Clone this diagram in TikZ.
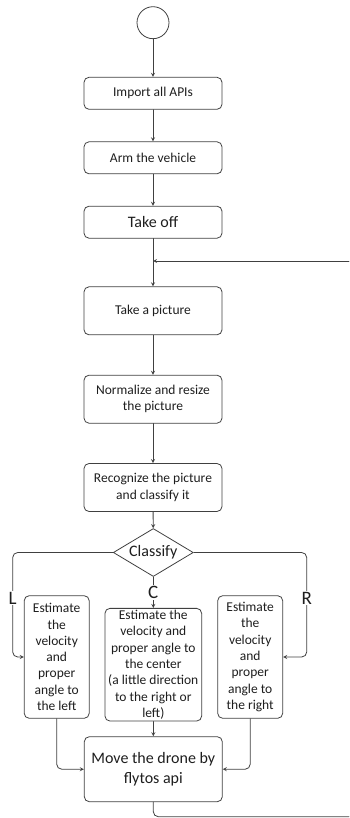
\documentclass[tikz,border=0pt]{standalone}
\usepackage{fontspec}
\setmainfont{Carlito}
\usetikzlibrary{shapes.geometric}
\definecolor{linegray}{HTML}{404040}
\definecolor{textgray}{HTML}{1E1E1E}
\tikzset{
	box/.style={draw=linegray, line width=0.8pt, rounded corners=5pt, align=center, inner sep=0pt, text=textgray},
	small/.style={font=\fontsize{13.5}{16.3}\selectfont},
	large/.style={font=\fontsize{16}{20}\selectfont},
	branch/.style={fill=white, inner sep=1pt, text=textgray, font=\fontsize{19}{22}\selectfont},
	link/.style={draw=linegray, line width=0.8pt, rounded corners=5pt, ->}
}
\begin{document}
\begin{tikzpicture}[line join = round, line cap = round,>=stealth,x=1pt,y=-1pt]
	\useasboundingbox (0,0) rectangle (349,818);
	\node[draw=linegray, line width=0.8pt, circle, minimum size=32pt, inner sep=0pt](start) at (153,22.7){};
	\node[box,small,minimum width=138pt,minimum height=32pt](import) at (153,93.3){Import all APIs};
	\node[box,small,minimum width=138pt,minimum height=32pt](arm) at (153,157.8){Arm the vehicle};
	\node[box,large,minimum width=138pt,minimum height=32pt](takeoff) at (153,222.2){Take off};
	\node[box,small,minimum width=138pt,minimum height=48pt](picture) at (153,310.8){Take a picture};
	\node[box,small,minimum width=138pt,minimum height=48pt](normalize) at (153,399.2){Normalize and resize\\the picture};
	\node[box,small,minimum width=138pt,minimum height=48pt](recognize) at (153,487.5){Recognize the picture\\and classify it};
	\node[draw=linegray, line width=0.8pt, diamond, aspect=1.67, minimum width=80pt, minimum height=48pt, inner sep=0pt, text=textgray, font=\fontsize{16}{20}\selectfont](classify) at (153.3,552.5){Classify};
	\node[box,small,minimum width=65pt,minimum height=122.6pt](leftbox) at (56.7,657){Estimate\\the\\velocity\\and\\proper\\angle to\\the left};
	\node[box,small,minimum width=96.7pt,minimum height=112.7pt](centerbox) at (153.3,664.7){Estimate the\\velocity and\\proper angle to\\the center\\(a little direction\\to the right or\\left)};
	\node[box,small,minimum width=65pt,minimum height=122.6pt](rightbox) at (250.2,657){Estimate\\the\\velocity\\and\\proper\\angle to\\the right};
	\node[box,large,minimum width=138pt,minimum height=65pt](move) at (153.3,769.2){Move the drone by\\flytos api};
	\coordinate(loopback) at (349,261);
	\coordinate(loopin) at (153,261);
	\coordinate(loopout) at (349,816.7);
	\coordinate(lcorner) at (12.7,552.5);
	\coordinate(rcorner) at (306.7,552.5);
	\draw[link] (start)--(import);
	\draw[link] (import)--(arm);
	\draw[link] (arm)--(takeoff);
	\draw[link] (takeoff)--(picture);
	\draw[link] (loopback)--(loopin);
	\draw[link] (picture)--(normalize);
	\draw[link] (normalize)--(recognize);
	\draw[link] (recognize)--(classify);
	\draw[link] (classify.west)--(lcorner)|-(leftbox.west);
	\draw[link] (classify.east)--(rcorner)|-(rightbox.east);
	\draw[link] (classify.south)--(centerbox.north);
	\draw[link] (leftbox.south)|-(move.west);
	\draw[link] (rightbox.south)|-(move.east);
	\draw[link] (centerbox.south)--(move.north);
	\draw[link,-] (move.south)|-(loopout);
	\path (12.7,598.3) node[branch](lbl){L} (153.3,592.7) node[branch](clbl){C} (306.7,598.3) node[branch](rlbl){R};
\end{tikzpicture}
\end{document}
